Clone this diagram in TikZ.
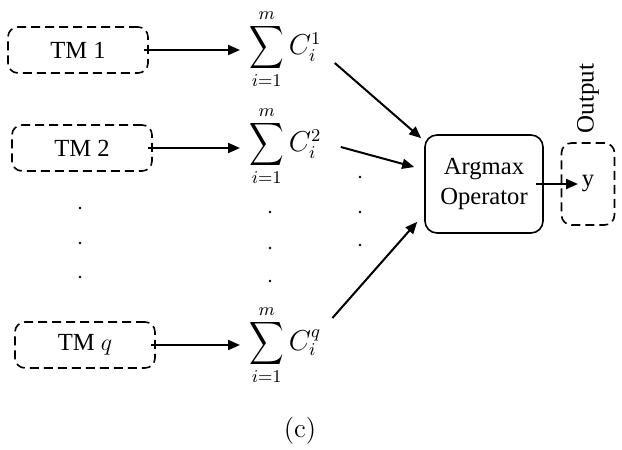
\documentclass[tikz,border=0pt]{standalone}
\usepackage{graphicx}
\usepackage{fontspec}
\setmainfont{Liberation Serif}
\newfontfamily\lmr{Latin Modern Roman}
\usetikzlibrary{arrows.meta,positioning}
\newcommand{\bigsig}{\mathop{\vcenter{\hbox{\scalebox{1.2}[1.5]{$\displaystyle\sum$}}}}\limits}

\begin{document}
\begin{tikzpicture}[
    x=0.5pt,y=-0.5pt,
    tmbox/.style={draw,dash pattern=on 4.5pt off 2.5pt,rounded corners=5pt,
      line width=0.8pt,minimum width=70pt,minimum height=23pt,
      font=\fontsize{12.3}{14}\selectfont},
    sumnode/.style={inner sep=0pt,anchor=west,font=\fontsize{13.5}{15}\selectfont},
    opbox/.style={draw,rounded corners=6pt,line width=0.8pt,minimum width=59pt,
      minimum height=49pt,align=center,font=\fontsize{12.3}{15}\selectfont},
    outbox/.style={tmbox,minimum width=26.5pt,minimum height=41pt},
    arr/.style={-{Triangle[length=6pt,width=5pt]},line width=1pt}
  ]
    \useasboundingbox (0,0) rectangle (622,450);

    \node[tmbox] (tm1) at (78,50) {TM 1};
    \node[tmbox] (tm2) at (82,148) {TM 2};
    \node[tmbox] (tmq) at (85,345) {TM $q$};

    \node[sumnode] (s1) at (249,49) {$\bigsig_{i=1}^{m} C_i^{1}$};
    \node[sumnode] (s2) at (249,146) {$\bigsig_{i=1}^{m} C_i^{2}$};
    \node[sumnode] (sq) at (249,345) {$\bigsig_{i=1}^{m} C_i^{q}$};

    \node[opbox] (op) at (484,184) {Argmax\\Operator};
    \node[outbox] (out) at (588,184) {y};
    \node[rotate=90,anchor=west,font=\fontsize{12.5}{14}\selectfont]
      (outlbl) at ([yshift=1pt]out.north) {Output};

    \node[font=\lmr\fontsize{13.5}{15}\selectfont] (cap) at (300,431) {(c)};

    % vertical dots
    \foreach \x/\y in {80/208,80/243,80/277,270/212,270/248,270/281,
      360/177,360/212,360/245}
      \fill (\x,\y) circle (0.7pt);

    \draw[arr,shorten >=4.5pt] ([xshift=-2.5pt]tm1.east) -- (tm1.east -| s1.west);
    \draw[arr,shorten >=4.5pt] ([xshift=-2.5pt]tm2.east) -- (tm2.east -| s2.west);
    \draw[arr,shorten >=4.5pt] ([xshift=-2.5pt]tmq.east) -- (tmq.east -| sq.west);

    \draw[arr] ([shift={(6.5pt,-7pt)}]s1.east) -- ([shift={(-1.5pt,-2pt)}]op.north west);
    \draw[arr] ([shift={(9.5pt,-0.5pt)}]s2.east) -- ([shift={(-5pt,8.5pt)}]op.west);
    \draw[arr] ([shift={(5.5pt,13.5pt)}]sq.east) -- ([shift={(-3.5pt,6pt)}]op.south west);
    \draw[arr,shorten >=5pt] ([xshift=-4pt]op.east) -- (out.center);
  \end{tikzpicture}
\end{document}
